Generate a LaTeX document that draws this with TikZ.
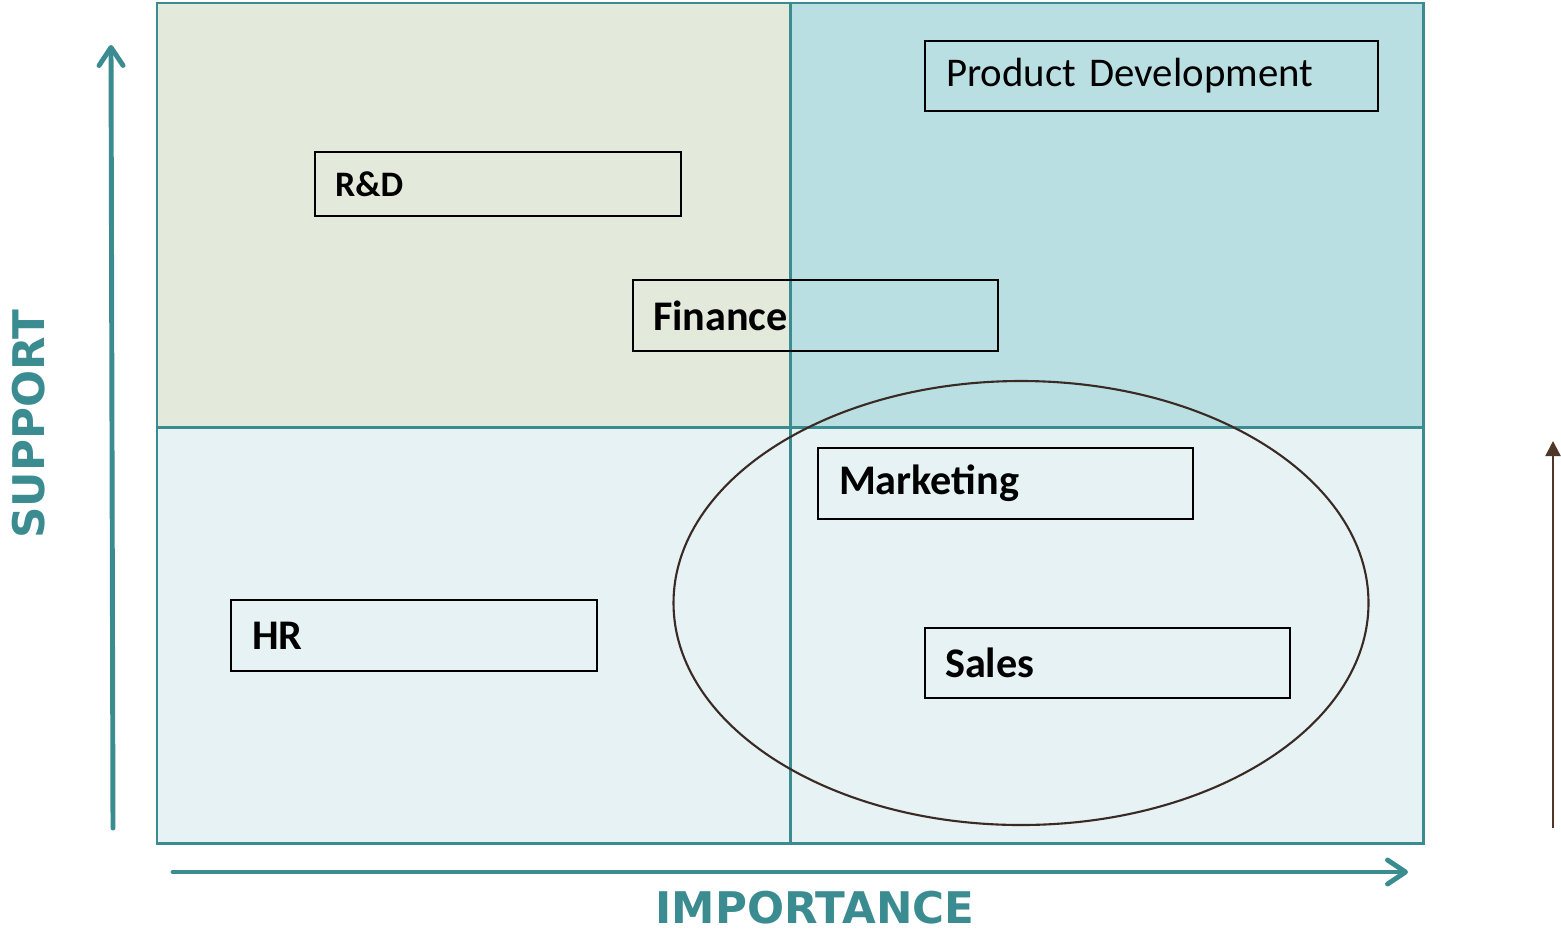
\documentclass[tikz,border=0pt]{standalone}
\usepackage{fontspec}
\setmainfont{Carlito}
\newfontfamily\axisfont{DejaVu Sans}
\usetikzlibrary{arrows.meta}
\definecolor{axisteal}{RGB}{59,140,145}
\definecolor{quadgreen}{RGB}{228,234,219}
\definecolor{quadblue}{RGB}{185,223,227}
\definecolor{quadpale}{RGB}{230,242,244}
\definecolor{trendbrown}{RGB}{80,55,40}
\definecolor{ringbrown}{RGB}{58,42,36}
\tikzset{gbox/.style={
    rectangle,
    draw,
    line width=0.6pt,
    anchor=north west,
    align=left,
    font=\fontsize{12}{14}\selectfont\bfseries
  },
  nbox/.style={gbox,font=\fontsize{11.6}{14}\selectfont},
  sbox/.style={gbox,font=\fontsize{10.2}{12}\selectfont\bfseries},
  axis/.style={axisteal,line width=1.4pt,line cap=round,
    -{Straight Barb[length=1.8mm,width=2.4mm,round]}},
  axislabel/.style={text=axisteal,font=\axisfont\fontsize{12.4}{15}\selectfont\bfseries},
  grid/.style={axisteal,line width=0.85pt},
}

\begin{document}
\begin{tikzpicture}[x=0.01cm,y=-0.01cm]
  \useasboundingbox (0,0) rectangle (1561,930);
  % quadrants
  \fill[quadgreen] (157,3) rectangle (790,427);
  \fill[quadblue] (790,3) rectangle (1423,427);
  \fill[quadpale] (157,427) rectangle (1423,843);
  \draw[grid] (157,3) rectangle (1423,843);
  \draw[grid] (790,3) -- (790,843);
  \draw[grid] (157,427) -- (1423,427);

  % boxes
  \node[nbox,minimum width=4.53cm,minimum height=0.70cm,inner xsep=0.21cm,
    text width=4.11cm] (proddev) at (924,40) {\raisebox{-0.6pt}{Product Development}};
  \node[sbox,minimum width=3.66cm,minimum height=0.64cm,inner xsep=0.20cm,
    text width=3.26cm] (rnd) at (314,151) {R\&D};
  \node[gbox,minimum width=3.65cm,minimum height=0.71cm,inner xsep=0.20cm,
    text width=3.25cm] (finance) at (632,279) {Finance};
  \node[gbox,minimum width=3.75cm,minimum height=0.71cm,inner xsep=0.21cm,
    text width=3.33cm] (marketing) at (817,447) {Marketing};
  \node[gbox,minimum width=3.66cm,minimum height=0.71cm,inner xsep=0.21cm,
    text width=3.24cm] (hr) at (230,599) {HR};
  \node[gbox,minimum width=3.65cm,minimum height=0.70cm,inner xsep=0.20cm,
    text width=3.25cm] (sales) at (924,627) {Sales};

  \draw[ringbrown,line width=0.6pt] (1021,603) ellipse [x radius=347.5,y radius=222];

  % axes
  \coordinate (ytail) at (113,828);
  \coordinate (yhead) at (111,45);
  \coordinate (xtail) at (173,872);
  \coordinate (xhead) at (1408,872);
  \coordinate (ttail) at (1553,828);
  \coordinate (thead) at (1553,441);
  \draw[axis] (ytail) -- (yhead);
  \draw[axis] (xtail) -- (xhead);
  \draw[trendbrown,line width=0.6pt,-{Triangle[length=1.5mm,width=1.5mm]}] (ttail) -- (thead);

  \node[axislabel,rotate=90] (support) at (29,424) {SUPPORT};
  \node[axislabel] (importance) at (815,908) {IMPORTANCE};
\end{tikzpicture}
\end{document}
